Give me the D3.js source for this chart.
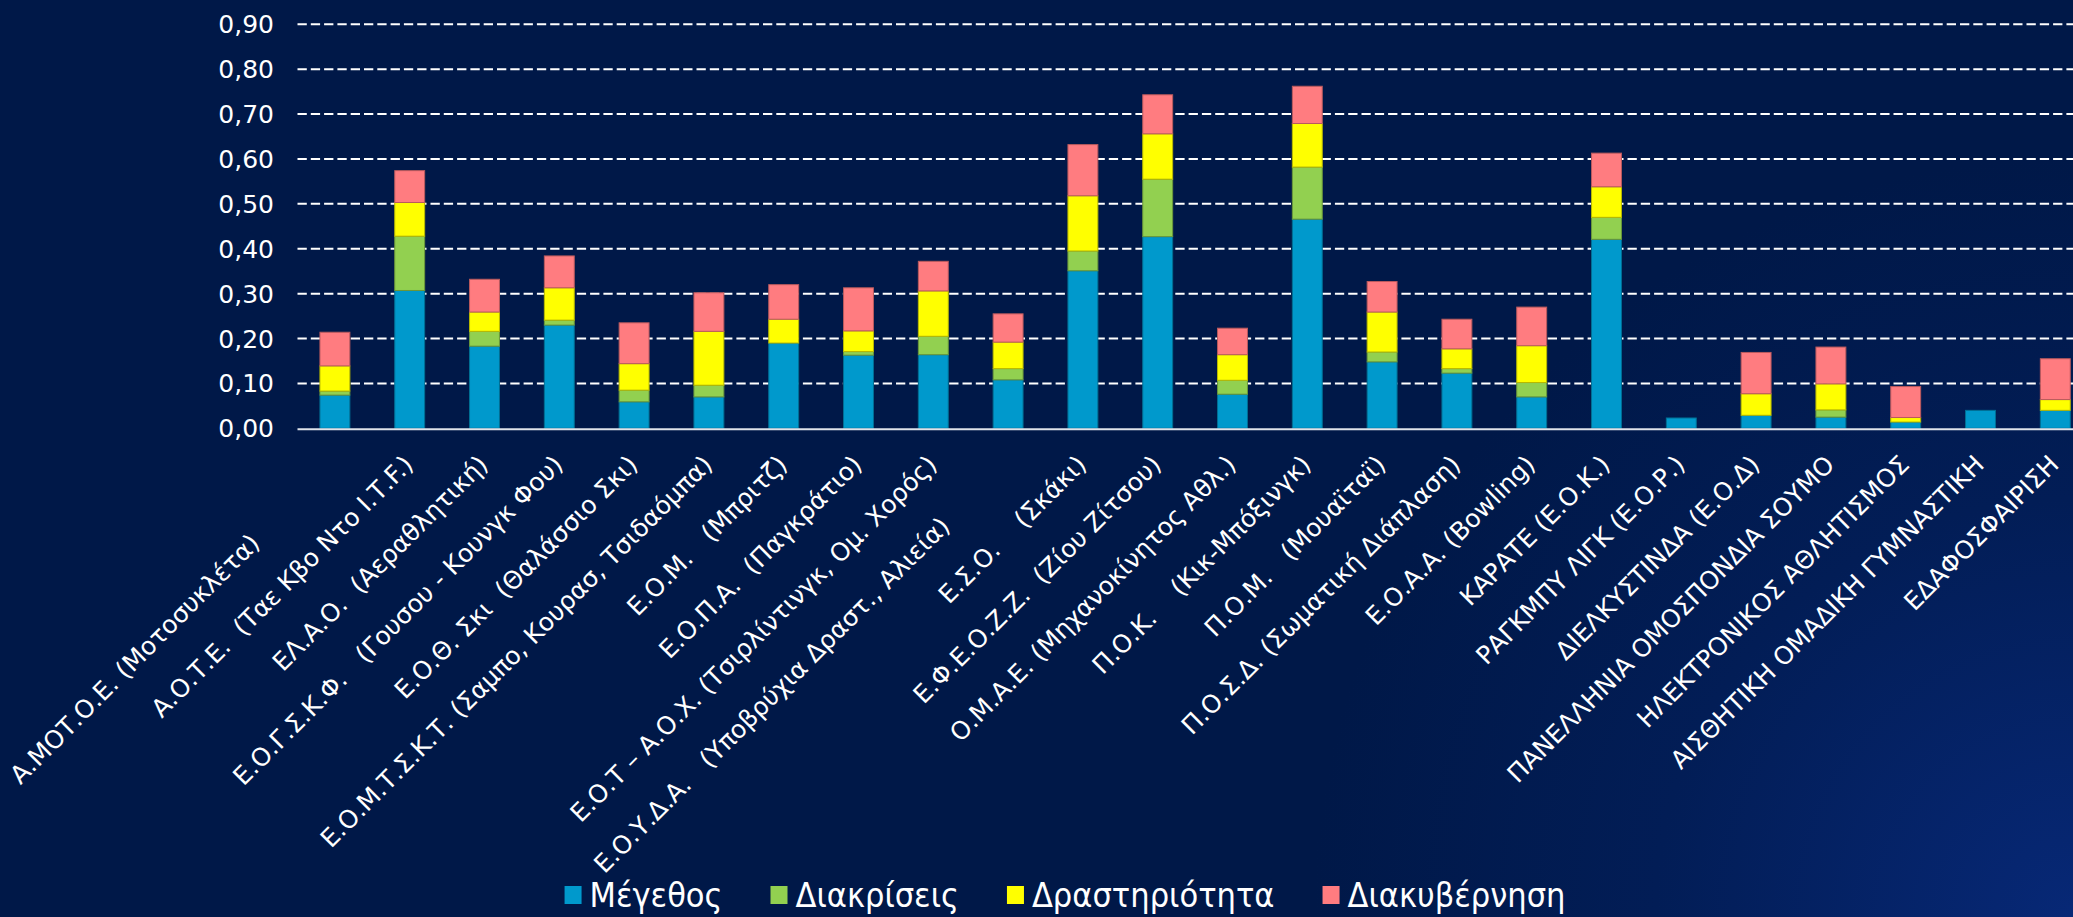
<!DOCTYPE html>
<html>
<head>
<meta charset="utf-8">
<script src="https://cdn.jsdelivr.net/npm/d3@7"></script>
<style>
  html, body { margin: 0; padding: 0; background: #001848; overflow: hidden; }
  svg { display: block; }
  .xlab { white-space: pre; }
</style>
</head>
<body>
<svg id="chart" width="2073" height="917"></svg>
<script>
// ---- data ----
const categories = [
  "Α.ΜΟΤ.Ο.Ε. (Μοτοσυκλέτα)              ",
  "Α.Ο.Τ.Ε.  (Ταε Κβο Ντο Ι.Τ.F.)",
  "ΕΛ.Α.Ο.  (Αεραθλητική)",
  "Ε.Ο.Γ.Σ.Κ.Φ.   (Γουσου - Κουνγκ Φου)",
  "Ε.Ο.Θ. Σκι  (Θαλάσσιο Σκι)",
  "Ε.Ο.Μ.Τ.Σ.Κ.Τ. (Σαμπο, Κουρασ, Τσιδαόμπα)",
  "Ε.Ο.Μ.   (Μπριτζ)",
  "Ε.Ο.Π.Α.  (Παγκράτιο)",
  "Ε.Ο.Τ – Α.Ο.Χ. (Τσιρλίντινγκ, Ομ. Χορός)",
  "Ε.Ο.Υ.Δ.Α.   (Υποβρύχια Δραστ., Αλιεία)           ",
  "Ε.Σ.Ο.    (Σκάκι)",
  "Ε.Φ.Ε.Ο.Ζ.Ζ.  (Ζίου Ζίτσου)",
  "Ο.Μ.Α.Ε. (Μηχανοκίνητος Αθλ.)",
  "Π.Ο.Κ.    (Κικ-Μπόξινγκ)",
  "Π.Ο.Μ.   (Μουαϊταϊ)",
  "Π.Ο.Σ.Δ. (Σωματική Διάπλαση)",
  "Ε.Ο.Α.Α. (Bowling)",
  "ΚΑΡΑΤΕ (Ε.Ο.Κ.)",
  "ΡΑΓΚΜΠΥ ΛΙΓΚ (Ε.Ο.Ρ.)",
  "ΔΙΕΛΚΥΣΤΙΝΔΑ (Ε.Ο.Δ)",
  "ΠΑΝΕΛΛΗΝΙΑ ΟΜΟΣΠΟΝΔΙΑ ΣΟΥΜΟ",
  "ΗΛΕΚΤΡΟΝΙΚΟΣ ΑΘΛΗΤΙΣΜΟΣ",
  "ΑΙΣΘΗΤΙΚΗ ΟΜΑΔΙΚΗ ΓΥΜΝΑΣΤΙΚΗ",
  "ΕΔΑΦΟΣΦΑΙΡΙΣΗ"
];
const seriesNames = ["Μέγεθος", "Διακρίσεις", "Δραστηριότητα", "Διακυβέρνηση"];
const megethos      = [0.074, 0.307, 0.183, 0.230, 0.059, 0.070, 0.190, 0.163, 0.164, 0.108, 0.351, 0.427, 0.076, 0.466, 0.148, 0.123, 0.070, 0.421, 0.023, 0.029, 0.025, 0.014, 0.040, 0.040];
const diakriseis    = [0.009, 0.121, 0.033, 0.011, 0.026, 0.026, 0.000, 0.008, 0.041, 0.025, 0.044, 0.128, 0.031, 0.116, 0.022, 0.010, 0.032, 0.049, 0.000, 0.000, 0.016, 0.000, 0.000, 0.000];
const drastiriotita = [0.056, 0.075, 0.043, 0.072, 0.059, 0.120, 0.053, 0.046, 0.101, 0.059, 0.123, 0.101, 0.057, 0.097, 0.089, 0.044, 0.082, 0.068, 0.000, 0.048, 0.058, 0.010, 0.000, 0.024];
const diakyvernisi  = [0.075, 0.071, 0.073, 0.071, 0.091, 0.086, 0.077, 0.096, 0.066, 0.063, 0.114, 0.087, 0.059, 0.083, 0.068, 0.066, 0.086, 0.075, 0.000, 0.092, 0.082, 0.069, 0.000, 0.091];
const yTicks = [0, 0.1, 0.2, 0.3, 0.4, 0.5, 0.6, 0.7, 0.8, 0.9];
const colors = ["#0099CC", "#92D050", "#FFFF00", "#FF7C80"];

// ---- build ----
const W = 2073, H = 917;
const svg = d3.select("#chart");

const defs = svg.append("defs");
const rg = defs.append("radialGradient").attr("id", "bg")
  .attr("gradientUnits", "userSpaceOnUse")
  .attr("cx", W).attr("cy", H).attr("r", 760);
rg.append("stop").attr("offset", "0%").attr("stop-color", "#072876");
rg.append("stop").attr("offset", "55%").attr("stop-color", "#021d56");
rg.append("stop").attr("offset", "100%").attr("stop-color", "#001848");
svg.append("rect").attr("width", W).attr("height", H).attr("fill", "url(#bg)");

const table = categories.map((c, i) => ({
  cat: c,
  [seriesNames[0]]: megethos[i],
  [seriesNames[1]]: diakriseis[i],
  [seriesNames[2]]: drastiriotita[i],
  [seriesNames[3]]: diakyvernisi[i]
}));
const stacked = d3.stack().keys(seriesNames)(table);

const x = d3.scaleBand().domain(categories).range([297.5, 2092.7]).paddingInner(0.6).paddingOuter(0.3);
const y = d3.scaleLinear().domain([0, 0.9]).range([428.3, 24.3]);

// grid lines
svg.append("g").selectAll("line").data(yTicks.filter(d => d > 0)).join("line")
  .attr("x1", 297.5).attr("x2", W)
  .attr("y1", d => y(d)).attr("y2", d => y(d))
  .attr("stroke", "#ffffff").attr("stroke-width", 2)
  .attr("stroke-dasharray", "9.3,4");

// y tick labels
const fmt = d => d3.format(".2f")(d).replace(".", ",");
svg.append("g").selectAll("text").data(yTicks).join("text")
  .attr("x", 274).attr("y", d => y(d)).attr("dy", "0.36em")
  .attr("text-anchor", "end")
  .attr("font-family", "DejaVu Sans, Verdana, sans-serif")
  .attr("font-size", 25).attr("fill", "#ffffff")
  .text(fmt);

// bars
svg.append("g").selectAll("g").data(stacked).join("g")
  .attr("fill", (d, i) => colors[i])
  .attr("stroke", (d, i) => d3.color(colors[i]).darker(0.9))
  .attr("stroke-width", 1)
  .selectAll("rect").data(d => d.filter(s => s[1] - s[0] > 0)).join("rect")
  .attr("x", d => x(d.data.cat))
  .attr("width", x.bandwidth())
  .attr("y", d => y(d[1]))
  .attr("height", d => y(d[0]) - y(d[1]));

// zero axis line
svg.append("line").attr("x1", 297.5).attr("x2", W)
  .attr("y1", y(0) + 1).attr("y2", y(0) + 1)
  .attr("stroke", "#dfe3ea").attr("stroke-width", 2);

// x labels
svg.append("g").selectAll("text").data(categories).join("text")
  .attr("class", "xlab")
  .attr("xml:space", "preserve")
  .attr("transform", d => `translate(${x(d) + x.bandwidth() / 2 + 5},466) rotate(-45)`)
  .attr("text-anchor", "end")
  .attr("font-family", "DejaVu Sans, Verdana, sans-serif")
  .attr("font-size", 25).attr("fill", "#ffffff")
  .text(d => d);

// legend
const lg = svg.append("g");
const items = lg.selectAll("g").data(seriesNames).join("g");
items.append("rect").attr("width", 17).attr("height", 18).attr("y", -21)
  .attr("fill", (d, i) => colors[i]);
items.append("text").attr("x", 25).attr("y", 0)
  .attr("font-family", "DejaVu Sans Condensed, DejaVu Sans, sans-serif")
  .attr("font-size", 34).attr("fill", "#ffffff")
  .text(d => d);
let cx = 0;
items.each(function () {
  const g = d3.select(this);
  const tw = g.select("text").node().getComputedTextLength();
  g.attr("transform", `translate(${cx},0)`);
  cx += 25 + tw + 48;
});
const total = cx - 48;
lg.attr("transform", `translate(${1065 - total / 2},907)`);
</script>
</body>
</html>
